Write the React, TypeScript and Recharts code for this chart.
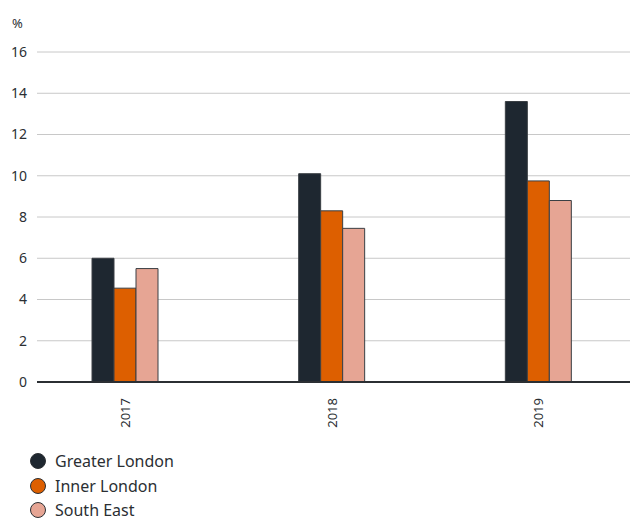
import { BarChart, Bar, XAxis, YAxis, CartesianGrid } from 'recharts';

const years = ['2017', '2018', '2019'];
const greaterLondon = [6.0, 10.1, 13.6];
const innerLondon = [4.55, 8.3, 9.75];
const southEast = [5.5, 7.45, 8.8];
const yTicks = [0, 2, 4, 6, 8, 10, 12, 14, 16];

const series = [
  { key: 'greaterLondon', name: 'Greater London', color: '#1e2730' },
  { key: 'innerLondon', name: 'Inner London', color: '#dd5f00' },
  { key: 'southEast', name: 'South East', color: '#e6a594' },
];

const data = years.map((year, i) => ({
  year,
  greaterLondon: greaterLondon[i],
  innerLondon: innerLondon[i],
  southEast: southEast[i],
}));

const FONT = '"Noto Sans", "Open Sans", sans-serif';
const TEXT = '#2b2f33';

function YearTick({ x, y, payload }: any) {
  return (
    <g transform={`translate(${x},${y})`}>
      <text transform="rotate(-90)" textAnchor="end" dy="0.35em" fill={TEXT} fontSize={13} fontFamily={FONT}>
        {payload.value}
      </text>
    </g>
  );
}

function LegendList() {
  return (
    <div style={{ position: 'absolute', left: 22, top: 441, fontFamily: FONT, fontSize: 16, color: TEXT }}>
      {series.map((s) => (
        <div key={s.key} style={{ display: 'flex', alignItems: 'center', height: 24.5 }}>
          <span
            style={{
              width: 16,
              height: 16,
              borderRadius: '50%',
              background: s.color,
              border: '1px solid #2b2f33',
              boxSizing: 'border-box',
              marginRight: 9,
            }}
          />
          {s.name}
        </div>
      ))}
    </div>
  );
}

export default function App() {
  return (
    <div style={{ position: 'relative', width: 630, height: 517 }}>
      <BarChart width={630} height={517} data={data} margin={{ top: 44, right: 3, bottom: 83, left: 0 }} barGap={0}>
        <CartesianGrid vertical={false} stroke="#c8c8c8" />
        <XAxis
          dataKey="year"
          axisLine={{ stroke: '#2b2f33', strokeWidth: 2 }}
          tickLine={false}
          tickSize={0}
          tickMargin={16}
          tick={<YearTick />}
          interval={0}
          padding={{ left: -15, right: -7 }}
          height={60}
        />
        <YAxis
          domain={[0, 16]}
          ticks={yTicks}
          width={29}
          axisLine={false}
          tickLine={false}
          tickSize={0}
          tickMargin={10}
          tick={{ fill: TEXT, fontSize: 14, fontFamily: FONT }}
          label={() => (
            <text x={4} y={20} fill={TEXT} fontSize={13} fontFamily={FONT}>
              %
            </text>
          )}
        />
        {series.map((s) => (
          <Bar
            key={s.key}
            dataKey={s.key}
            name={s.name}
            fill={s.color}
            stroke="#3a3f44"
            strokeWidth={1}
            barSize={22}
            isAnimationActive={false}
          />
        ))}
      </BarChart>
      <LegendList />
    </div>
  );
}
